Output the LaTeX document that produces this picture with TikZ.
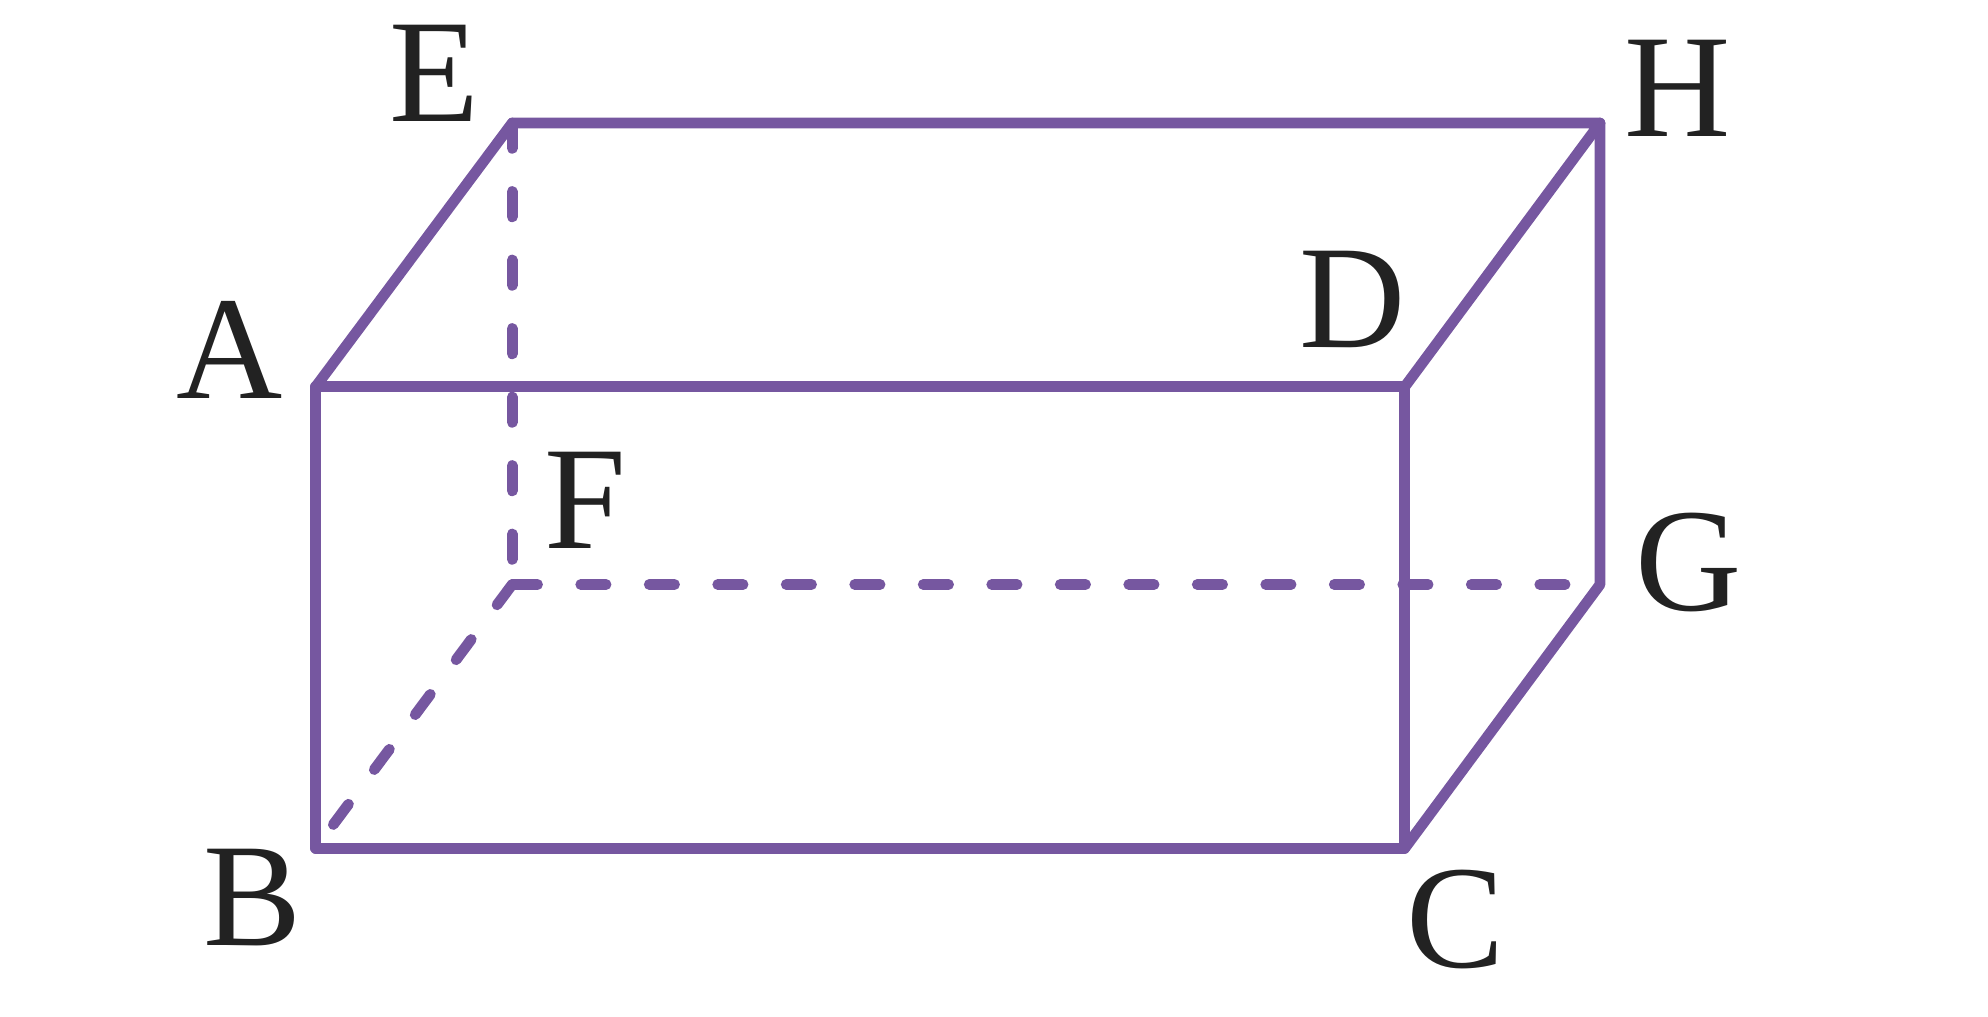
\documentclass[tikz,border=0pt]{standalone}
\usepackage{fontspec}
\setmainfont{Liberation Serif}
\definecolor{edge}{HTML}{7657A0}
\definecolor{ink}{HTML}{222222}
\begin{document}
\begin{tikzpicture}[x=0.01cm,y=-0.01cm,
  solidedge/.style={draw=edge,line width=2.4pt,line join=round,line cap=round},
  hidden/.style={draw=edge,line width=2.4pt,line cap=round,dash pattern=on 0.2cm off 0.34cm},
  lab/.style={text=ink,font=\fontsize{33}{33}\selectfont,inner sep=0pt}]
\useasboundingbox (0,0) rectangle (1568,802);
\coordinate (A) at (249,305);
\coordinate (B) at (249,669);
\coordinate (C) at (1108,669);
\coordinate (D) at (1108,305);
\coordinate (E) at (404,97);
\coordinate (H) at (1262,97);
\coordinate (G) at (1262,461);
\coordinate (F) at (404,461);
\draw[solidedge] (A) -- (B) -- (C) -- (D) -- cycle;
\draw[solidedge] (A) -- (E) -- (H) -- (D);
\draw[solidedge] (H) -- (G) -- (C);
\draw[hidden] (E) -- (F);
\draw[hidden] (F) -- (G);
\draw[hidden] (F) -- (B);
\node[lab] (lE) at (343,58) {E};
\node[lab] (lH) at (1323,70) {H};
\node[lab] (lD) at (1067,236) {D};
\node[lab] (lA) at (181,276) {A};
\node[lab] (lF) at (462,395) {F};
\node[lab] (lG) at (1332,444) {G};
\node[lab] (lB) at (199,708) {B};
\node[lab] (lC) at (1148,725) {C};
\end{tikzpicture}
\end{document}
